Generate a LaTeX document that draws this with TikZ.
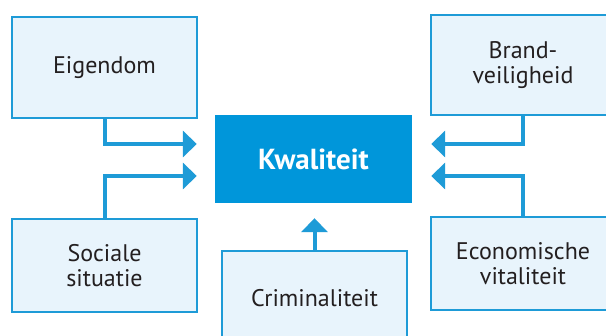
\documentclass[tikz,border=0pt]{standalone}
\usepackage{fontspec}
\setmainfont{PT Sans}
\usetikzlibrary{arrows.meta}
\definecolor{boxfill}{HTML}{E8F4FC}
\definecolor{boxline}{HTML}{1E9BD7}
\definecolor{kwfill}{HTML}{0096DA}
\definecolor{txt}{HTML}{231F20}
\tikzset{
  factor/.style={draw=boxline, fill=boxfill, line width=2.2pt, align=center,
    text=txt, font=\fontsize{24}{25}\selectfont, inner sep=0pt},
  kwbox/.style={fill=kwfill, draw=none, text=white,
    font=\fontsize{29}{30}\selectfont\bfseries, inner sep=0pt},
  link/.style={draw=boxline, line width=4pt,
    -{Triangle[length=14pt,width=26pt]}},
}
\begin{document}
\begin{tikzpicture}[x=1pt,y=-1pt]
\useasboundingbox (0,0) rectangle (606,336);
\clip (0,0) rectangle (606,336);
\fill[white] (0,0) rectangle (606,336);
\node[factor, minimum width=185pt, minimum height=101pt] (eig) at (104.5,67.5) {Eigendom};
\node[factor, minimum width=184pt, minimum height=100pt] (brand) at (523,65) {Brand-\\veiligheid};
\node[factor, minimum width=185pt, minimum height=93pt] (soc) at (104.5,265.5) {Sociale\\situatie};
\node[factor, minimum width=184pt, minimum height=93pt] (eco) at (523,263.5) {Economische\\vitaliteit};
\node[factor, minimum width=185pt, minimum height=94pt] (crim) at (314.5,298) {Criminaliteit};
\node[kwbox, minimum width=197pt, minimum height=88pt] (kw) at (313.5,159) {Kwaliteit};
\coordinate (a1) at ([xshift=-18pt,yshift=15pt]kw.west);
\coordinate (a2) at ([xshift=-18pt,yshift=-17pt]kw.west);
\coordinate (a3) at ([xshift=19pt,yshift=15pt]kw.east);
\coordinate (a4) at ([xshift=19pt,yshift=-17pt]kw.east);
\coordinate (a5) at ([yshift=-15pt]kw.south);
\draw[link] ([yshift=1pt]eig.south) |- (a1);
\draw[link] ([yshift=-1pt]soc.north) |- (a2);
\draw[link] ([yshift=1pt]brand.south) |- (a3);
\draw[link] ([yshift=-1pt]eco.north) |- (a4);
\draw[link] ([yshift=-1pt]crim.north) -- (crim.north |- a5);
\end{tikzpicture}
\end{document}
